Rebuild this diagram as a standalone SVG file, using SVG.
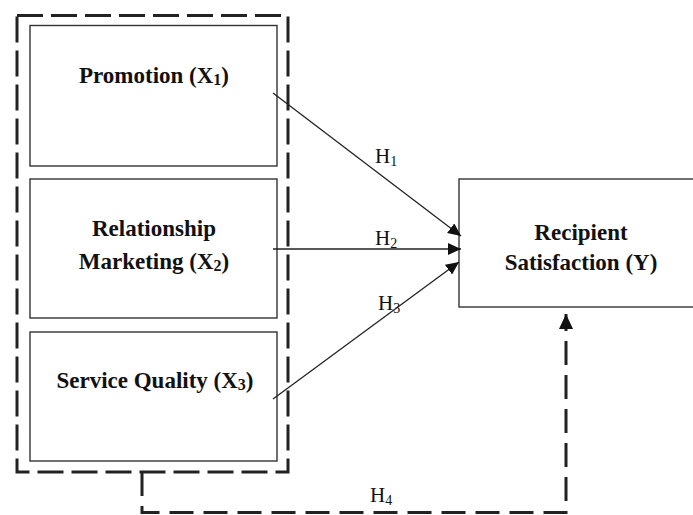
<svg xmlns="http://www.w3.org/2000/svg" width="693" height="515" viewBox="0 0 693 515">
  <style>
    .box { fill: #fff; stroke: #333; stroke-width: 1.4; }
    .group { fill: none; stroke: #222; stroke-width: 3; stroke-dasharray: 26 8; }
    .title { font-family: "Liberation Serif", "Times New Roman", serif; font-weight: bold; font-size: 23px; fill: #111; text-anchor: middle; }
    .edge { fill: none; stroke: #222; stroke-width: 1.3; }
    .dash-edge { fill: none; stroke: #222; stroke-width: 3; stroke-dasharray: 24 10; }
    .lbl { font-family: "Liberation Serif", "Times New Roman", serif; font-size: 21px; fill: #111; }
  </style>
  <defs>
    <marker id="head" markerUnits="userSpaceOnUse" markerWidth="14" markerHeight="12" refX="13" refY="6" orient="auto">
      <path d="M0,0 L13,6 L0,12 Z" fill="#111"/>
    </marker>
    <marker id="head-big" markerUnits="userSpaceOnUse" markerWidth="16" markerHeight="14" refX="15" refY="7" orient="auto">
      <path d="M0,0 L15,7 L0,14 Z" fill="#111"/>
    </marker>
  </defs>

  <!-- dashed frame grouping the independent variables -->
  <rect id="independents" class="group" x="17" y="15.5" width="271" height="456.5"/>

  <g id="promotion">
    <rect class="box" x="30" y="25.5" width="247" height="140.5"/>
    <text class="title" x="154" y="83">Promotion (X<tspan font-size="16" dy="2">1</tspan><tspan dy="-2">)</tspan></text>
  </g>

  <g id="relationship-marketing">
    <rect class="box" x="30" y="179" width="247" height="139"/>
    <text class="title" x="154" y="236">Relationship</text>
    <text class="title" x="154" y="269">Marketing (X<tspan font-size="16" dy="2">2</tspan><tspan dy="-2">)</tspan></text>
  </g>

  <g id="service-quality">
    <rect class="box" x="30" y="332" width="247" height="129"/>
    <text class="title" x="155" y="388">Service Quality (X<tspan font-size="16" dy="2">3</tspan><tspan dy="-2">)</tspan></text>
  </g>

  <g id="recipient-satisfaction">
    <rect class="box" x="459" y="179" width="260" height="128"/>
    <text class="title" x="581" y="240">Recipient</text>
    <text class="title" x="581" y="270">Satisfaction (Y)</text>
  </g>

  <g id="connectors">
    <line class="edge" x1="273" y1="93" x2="461" y2="236" marker-end="url(#head)"/>
    <line class="edge" x1="273" y1="249" x2="461" y2="249" marker-end="url(#head)"/>
    <line class="edge" x1="273" y1="399" x2="459" y2="262" marker-end="url(#head)"/>
    <path class="dash-edge" d="M142,472 V512.5 H566 V314" marker-end="url(#head-big)"/>

    <text class="lbl" x="375" y="163">H<tspan font-size="14" dy="3">1</tspan></text>
    <text class="lbl" x="375" y="245">H<tspan font-size="14" dy="3">2</tspan></text>
    <text class="lbl" x="378" y="310">H<tspan font-size="14" dy="3">3</tspan></text>
    <text class="lbl" x="370" y="502">H<tspan font-size="14" dy="3">4</tspan></text>
  </g>
</svg>
